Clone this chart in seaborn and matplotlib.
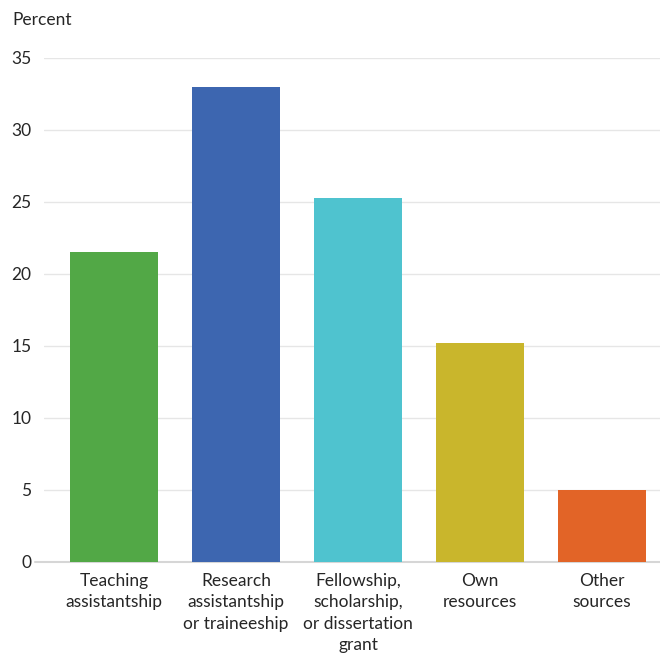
import seaborn as sns
import matplotlib.pyplot as plt
import pandas as pd

# Datos
categories = ["Teaching\nassistantship", "Research\nassistantship\nor traineeship",
              "Fellowship,\nscholarship,\nor dissertation\ngrant", "Own\nresources", "Other\nsources"]
percent = [21.5, 33.0, 25.3, 15.2, 5.0]
colors = ["#52a846", "#3d66b0", "#4fc3cf", "#c9b62c", "#e26427"]
yticks = [0, 5, 10, 15, 20, 25, 30, 35]

df = pd.DataFrame({"category": categories, "percent": percent})

sns.set_style("white")
plt.rcParams["font.family"] = ["Lato", "DejaVu Sans"]

fig = plt.figure(figsize=(6.6, 6.53), dpi=100)
ax = fig.add_axes([44 / 660, 91 / 653, 616 / 660, 504 / 653])

sns.barplot(data=df, x="category", y="percent", hue="category", palette=colors,
            width=0.72, legend=False, saturation=1, linewidth=0, ax=ax, zorder=2)

ax.set_ylim(0, 35)
ax.set_xlim(-0.574, 4.475)
ax.set_yticks(yticks)
ax.grid(axis="y", color="#e6e6e6", linewidth=1, zorder=0)
ax.set_axisbelow(True)
for s in ax.spines.values():
    s.set_visible(False)
ax.axhline(0, xmin=-0.015, xmax=1, color="#d6d6d6", linewidth=1.5, clip_on=False, zorder=1)

ax.tick_params(axis="both", length=0, labelsize=12.5, colors="#262626")
ax.tick_params(axis="y", pad=9)
ax.tick_params(axis="x", pad=8)
for lbl in ax.get_xticklabels():
    lbl.set_linespacing(1.4)
ax.set_xlabel("")
ax.set_ylabel("")

fig.text(12 / 660, 1 - 20 / 653, "Percent", fontsize=12.5, color="#262626", va="center", ha="left")

plt.savefig("out.png", dpi=100)
